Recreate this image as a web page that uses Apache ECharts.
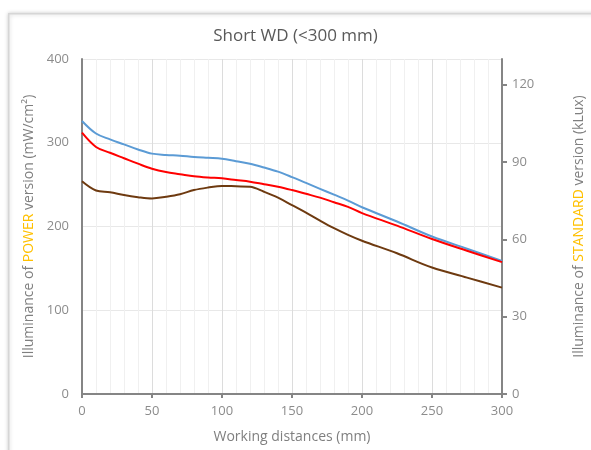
<!DOCTYPE html>
<html>
<head>
<meta charset="utf-8">
<script src="https://cdn.jsdelivr.net/npm/echarts@6/dist/echarts.min.js"></script>
<style>html,body{margin:0;padding:0;background:#fff}#c{width:591px;height:450px}</style>
</head>
<body>
<div id="c"></div>
<script>
const distances = [0,10,20,30,40,50,60,70,80,90,100,110,120,130,140,150,160,170,180,190,200,225,250,275,300];
const blueSeries = [326,311,304,298,292,287,285.5,284.5,283,282,281,278,275,270.5,265.5,259,252,245,238,231,223,206,188,173.5,159];
const redSeries = [312,295,288,281.5,275,269,265,262.5,260,258.5,257.5,255.5,253.5,250.5,247.5,243.5,239,234.5,229,223.5,216,201,185,171,157.5];
const brownSeries = [254,243,241,237.5,235,233.5,235.5,238.5,243.5,246.5,248.5,248,247.5,241.5,234.5,225.5,216.5,207,198,190,183,168,151,139,127];
const titleText = 'Short WD (<300 mm)';
const xName = 'Working distances (mm)';

const font = '"Open Sans", "Noto Sans", sans-serif';
const pair = (arr) => distances.map((d, i) => [d, arr[i]]);
const chart = echarts.init(document.getElementById('c'));
chart.setOption({
  animation: false,
  textStyle: { fontFamily: font },
  graphic: [{
    type: 'rect', left: 8, top: 13, z: -10, silent: true,
    shape: { width: 620, height: 480 },
    style: { fill: '#fff', stroke: '#d6d6d6', lineWidth: 1.5, shadowBlur: 4, shadowColor: 'rgba(0,0,0,0.2)' }
  }],
  title: {
    text: titleText, left: 'center', top: 23,
    textStyle: { fontSize: 17, fontWeight: 'normal', color: '#595959', fontFamily: font }
  },
  grid: { left: 82, right: 89, top: 59, bottom: 56, outerBoundsMode: 'none', containLabel: false },
  xAxis: {
    type: 'value', min: 0, max: 300, interval: 50,
    name: xName, nameLocation: 'middle', nameGap: 36,
    nameTextStyle: { fontSize: 14, color: '#7f7f7f', fontFamily: font },
    axisLine: { lineStyle: { color: '#858585', width: 2 } },
    axisTick: { show: true, length: 4, lineStyle: { color: '#858585', width: 2 } },
    axisLabel: { fontSize: 13, color: '#8c8c8c', margin: 11 },
    splitLine: { show: true, lineStyle: { color: '#dcdcdc', width: 1 } },
    minorTick: { show: false, splitNumber: 5 },
    minorSplitLine: { show: true, lineStyle: { color: '#f0f0f0', width: 1 } }
  },
  yAxis: [{
    type: 'value', min: 0, max: 400, interval: 100, position: 'left',
    name: 'Illuminance of {o|POWER} version (mW/cm²)', nameLocation: 'middle', nameGap: 44, nameRotate: 90,
    nameTextStyle: { fontSize: 14, color: '#7f7f7f', fontFamily: font, rich: { o: { color: '#ffc000', fontSize: 14, fontFamily: font } } },
    axisLine: { show: true, lineStyle: { color: '#858585', width: 2 } },
    axisTick: { show: false },
    axisLabel: { fontSize: 13, color: '#8c8c8c', margin: 13 },
    splitLine: { show: true, lineStyle: { color: '#e8e8e8', width: 1 } }
  }, {
    type: 'value', min: 0, max: 130, interval: 30, position: 'right',
    name: 'Illuminance of {o|STANDARD} version (kLux)', nameLocation: 'middle', nameGap: 70, nameRotate: 90,
    nameTextStyle: { fontSize: 14, color: '#7f7f7f', fontFamily: font, rich: { o: { color: '#ffc000', fontSize: 14, fontFamily: font } } },
    axisLine: { show: true, lineStyle: { color: '#858585', width: 2 } },
    axisTick: { show: true, length: 5, lineStyle: { color: '#858585', width: 2 } },
    axisLabel: { fontSize: 13, color: '#8c8c8c', margin: 10, showMaxLabel: false },
    splitLine: { show: false }
  }],
  series: [
    { type: 'line', data: pair(blueSeries), showSymbol: false, smooth: 0.35, lineStyle: { color: '#5b9bd5', width: 2 }, itemStyle: { color: '#5b9bd5' } },
    { type: 'line', data: pair(redSeries), showSymbol: false, smooth: 0.35, lineStyle: { color: '#ff0000', width: 2 }, itemStyle: { color: '#ff0000' } },
    { type: 'line', data: pair(brownSeries), showSymbol: false, smooth: 0.35, lineStyle: { color: '#6e3a10', width: 2 }, itemStyle: { color: '#6e3a10' } }
  ]
});
</script>
</body>
</html>
